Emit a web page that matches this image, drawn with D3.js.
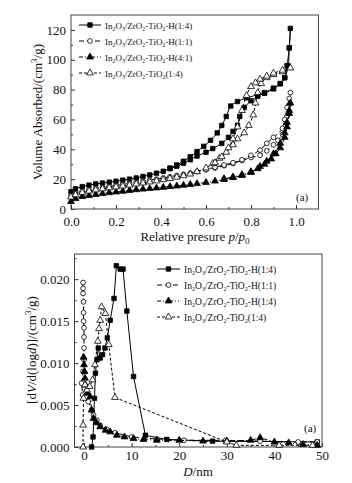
<!DOCTYPE html>
<html>
<head>
<meta charset="utf-8">
<script src="https://cdn.jsdelivr.net/npm/d3@7"></script>
<style>
  body { margin: 0; background: #fff; }
  svg text { font-family: "Liberation Serif", "Times New Roman", serif; }
</style>
</head>
<body>
<svg id="chart" width="352" height="483"></svg>
<script>
// ---- top panel: N2 isotherms (adsorption then desorption) ----
var p14 = [0,0.02,0.05,0.08,0.11,0.14,0.17,0.2,0.23,0.26,0.29,0.32,0.35,0.38,0.41,0.44,0.47,0.5,0.53,0.56,0.6,0.63,0.67,0.7,0.72,0.74,0.75,0.77,0.8,0.83,0.86,0.9,0.93,0.95,0.96,0.97,0.975,
           0.97,0.965,0.95,0.93,0.9,0.86,0.83,0.78,0.74,0.71,0.69,0.67,0.65,0.62,0.59,0.56,0.53,0.5,0.47,0.44];
var v14 = [11.6,13.5,15,16,16.8,17.4,18,18.6,19.3,20,20.8,21.8,22.8,24,25.3,27,28.7,30.6,33,35.5,38,40.5,44,48,52,56,62,68,72.5,75.5,77.5,80.5,84,88,96,108,121,
           108,96,88,84,81,78,76.5,74.5,72,69,62,56,51,46,42,38.5,35,32,29.5,27.5];
var p11 = [0,0.02,0.05,0.08,0.11,0.14,0.17,0.2,0.23,0.26,0.29,0.32,0.35,0.38,0.41,0.44,0.47,0.5,0.53,0.56,0.6,0.64,0.68,0.72,0.76,0.8,0.84,0.87,0.9,0.92,0.94,0.95,0.96,0.97,0.975,
           0.97,0.96,0.95,0.94,0.9,0.87,0.84,0.8,0.76,0.72,0.68,0.64,0.6];
var v11 = [9,10.5,12,13,13.8,14.5,15.2,15.8,16.5,17.2,17.9,18.6,19.3,20,20.8,21.6,22.4,23.2,24,25,26.3,27.5,29,30.5,32.5,34.5,36,39,43,46,50,55,62,70,78,
           74,68,60,54,48,44,39.5,36,33,31,29.5,28,26.5];
var p41 = [0,0.02,0.05,0.08,0.11,0.14,0.17,0.2,0.23,0.26,0.29,0.32,0.35,0.38,0.41,0.44,0.47,0.5,0.53,0.56,0.6,0.64,0.68,0.72,0.76,0.8,0.83,0.86,0.89,0.91,0.93,0.95,0.96,0.97,0.975,
           0.97,0.96,0.95,0.93,0.9,0.87,0.84,0.8,0.76,0.72,0.68];
var v41 = [5,7,8.3,9,9.7,10.3,10.9,11.4,11.9,12.4,12.9,13.3,13.7,14.1,14.5,15,15.4,15.9,16.4,17,17.8,18.7,19.8,21,22.5,24.5,27,30,33.5,37,41,48,55,64,71,
           66,58,51,44,37,32,28.5,25,23,21.5,20.3];
var pTi = [0,0.02,0.05,0.08,0.11,0.14,0.17,0.2,0.23,0.26,0.29,0.32,0.35,0.38,0.41,0.44,0.47,0.5,0.53,0.56,0.6,0.63,0.66,0.69,0.72,0.74,0.77,0.79,0.81,0.82,0.83,0.845,0.87,0.9,0.94,0.975,
           0.94,0.9,0.87,0.84,0.82,0.8,0.78,0.76,0.74,0.72,0.7,0.67,0.64];
var vTi = [8,9.5,11,12,12.8,13.5,14.2,14.8,15.4,16,16.7,17.4,18.1,18.8,19.6,20.4,21.3,22.3,23.4,25,27.5,30.5,34,38,43,47,51,56,63,71,78,84,88,90,92,94.5,
           93,91,89,87,84.5,82,76,66,55,47,41,35,31];

// ---- bottom panel: pore size distribution ----
var d14 = [1.6,1.9,2.2,2.4,2.7,3.0,3.4,3.9,4.4,4.9,5.5,6.3,6.8,7.6,8.2,9.0,10.4,12.9,17.4,27,49];
var dv14 = [0,0.0012,0.0058,0.0088,0.0104,0.0118,0.0106,0.011,0.0118,0.013,0.0151,0.0177,0.0216,0.0212,0.0212,0.0162,0.0084,0.0014,0.0009,0.0007,0.0006];
var d11 = [-0.2,-0.2,-0.2,-0.1,-0.1,-0.1,0,0,0,0,-0.2,-0.5,-0.3,0.9,1.6,2.0,2.7,3.4,4.8,6.5,10,15.3,21,29.8,37,45,49];
var dv11 = [0.0196,0.0189,0.0183,0.0173,0.016,0.015,0.0142,0.0131,0.0118,0.0104,0.009,0.0076,0.0062,0.0054,0.0044,0.0038,0.0032,0.0026,0.0021,0.0017,0.0012,0.00095,0.0008,0.0008,0.0007,0.0006,0.0006];
var d41 = [-0.1,0,0.1,0.2,0.3,0.7,1.3,1.6,2.0,2.6,3.4,4.5,5.5,6.9,8.5,10.4,12.5,15.3,20,25,30,35,37,40,43,46,49];
var dv41 = [0.0107,0.0098,0.009,0.0082,0.0074,0.0064,0.006,0.0044,0.0034,0.0029,0.0024,0.002,0.0018,0.0014,0.0012,0.001,0.0009,0.0008,0.0008,0.0007,0.0007,0.0008,0.0011,0.0006,0.0005,0.0003,0.0002];
var dTi = [-0.2,-0.2,-0.1,0.2,0.6,1.2,1.8,2.3,2.9,3.15,3.4,3.7,4.5,5.2,6.5,30,32,41,48];
var dvTi = [0,0.0026,0.0058,0.0074,0.0068,0.0072,0.008,0.0098,0.0126,0.0141,0.0151,0.0167,0.0159,0.0122,0.0059,0.0006,0.0002,0.0002,0.0002];

var topNames = ["H(1:4)", "H(1:1)", "H(4:1)", "(1:4)"];
var botNames = ["H(1:4)", "H(1:1)", "H(1:4)", "(1:4)"];
var topTicksX = [0, 0.2, 0.4, 0.6, 0.8, 1.0];
var topTicksY = [0, 20, 40, 60, 80, 100, 120];
var botTicksX = [0, 10, 20, 30, 40, 50];
var botTicksY = [0, 0.005, 0.010, 0.015, 0.020];

var FONT = "Liberation Serif";
var styles = [
    {sym: d3.symbolSquare, size: 20, fill: "#000", dash: null},
    {sym: d3.symbolCircle, size: 18, fill: "#fff", dash: "5,3"},
    {sym: d3.symbolTriangle, size: 20, fill: "#000", dash: "4,2,1,2,1,2"},
    {sym: d3.symbolTriangle, size: 20, fill: "#fff", dash: "3,2"}
];

var svg = d3.select("#chart");

function zip(a, b) { return a.map(function(d, i) { return [d, b[i]]; }); }

function panel(cfg) {
    var x = d3.scaleLinear().domain(cfg.xd).range(cfg.xr);
    var y = d3.scaleLinear().domain(cfg.yd).range(cfg.yr);
    var g = svg.append("g");

    // axes, ticks pointing inside
    var ax = d3.axisBottom(x).tickValues(cfg.tx).tickSize(-4).tickPadding(cfg.padx).tickFormat(cfg.fx);
    var ay = d3.axisLeft(y).tickValues(cfg.ty).tickSize(-4).tickPadding(5).tickFormat(cfg.fy);
    g.append("g").attr("transform", "translate(0," + cfg.yr[0] + ")").call(ax);
    g.append("g").attr("transform", "translate(" + cfg.xr[0] + ",0)").call(ay);
    // minor ticks
    g.append("g").attr("transform", "translate(0," + cfg.yr[0] + ")")
        .call(d3.axisBottom(x).tickValues(cfg.mx).tickSize(-2).tickFormat(""));
    g.append("g").attr("transform", "translate(" + cfg.xr[0] + ",0)")
        .call(d3.axisLeft(y).tickValues(cfg.my).tickSize(-2).tickFormat(""));
    g.selectAll(".domain").remove();
    g.selectAll(".tick line").attr("stroke", "#333");
    g.selectAll(".tick text").attr("font-size", 13).attr("fill", "#111")
        .attr("font-family", FONT);

    g.append("rect").attr("x", cfg.xr[0]).attr("y", cfg.yr[1])
        .attr("width", cfg.xr[1] - cfg.xr[0]).attr("height", cfg.yr[0] - cfg.yr[1])
        .attr("fill", "none").attr("stroke", "#444").attr("stroke-width", 1);

    var line = d3.line().x(d => x(d[0])).y(d => y(d[1])).curve(cfg.curve);
    cfg.series.forEach(function(s, i) {
        var st = styles[i];
        var pts = zip(s[0], s[1]);
        g.append("path").attr("d", line(pts)).attr("fill", "none")
            .attr("stroke", "#000").attr("stroke-width", 1)
            .attr("stroke-dasharray", st.dash);
        g.selectAll(null).data(pts).enter().append("path")
            .attr("d", d3.symbol().type(st.sym).size(st.size))
            .attr("transform", d => "translate(" + x(d[0]) + "," + y(d[1]) + ")")
            .attr("fill", st.fill).attr("stroke", "#000").attr("stroke-width", 0.8);
    });

    // legend
    cfg.names.forEach(function(n, i) {
        var st = styles[i];
        var ly = cfg.leg.y + i * cfg.leg.dy;
        g.append("line").attr("x1", cfg.leg.x1).attr("x2", cfg.leg.x2)
            .attr("y1", ly).attr("y2", ly).attr("stroke", "#000")
            .attr("stroke-dasharray", st.dash);
        g.append("path").attr("d", d3.symbol().type(st.sym).size(st.size)())
            .attr("transform", "translate(" + ((cfg.leg.x1 + cfg.leg.x2) / 2) + "," + ly + ")")
            .attr("fill", st.fill).attr("stroke", "#000").attr("stroke-width", 0.8);
        var t = g.append("text").attr("x", cfg.leg.x2 + 4).attr("y", ly + 3.5)
            .attr("font-family", FONT).attr("font-size", cfg.leg.fs).attr("fill", "#111");
        var parts = [["In", 0], ["2", 1], ["O", 0], ["3", 1], ["/ZrO", 0], ["2", 1], ["-TiO", 0], ["2", 1]];
        parts.push([i == 3 ? n : "-" + n, 0]);
        var shifted = false;
        parts.forEach(function(pp) {
            var dy = null;
            if (pp[1] && !shifted) { dy = 2.5; shifted = true; }
            else if (!pp[1] && shifted) { dy = -2.5; shifted = false; }
            t.append("tspan").text(pp[0])
                .attr("font-size", pp[1] ? cfg.leg.fs * 0.65 : cfg.leg.fs)
                .attr("dy", dy);
        });
    });

    g.append("text").attr("x", cfg.a[0]).attr("y", cfg.a[1])
        .attr("font-family", FONT).attr("font-size", 11).attr("fill", "#111").text("(a)");
    return {x: x, y: y, g: g};
}

// top
var pt = panel({
    xd: [0, 1.1], xr: [71, 318.5], yd: [0, 130], yr: [209, 15],
    tx: topTicksX, ty: topTicksY, fx: d3.format(".1f"), fy: d3.format("d"), padx: 8,
    mx: [0.1, 0.3, 0.5, 0.7, 0.9], my: [10, 30, 50, 70, 90, 110],
    curve: d3.curveCatmullRom.alpha(0.5),
    series: [[p14, v14], [p11, v11], [p41, v41], [pTi, vTi]],
    names: topNames, leg: {x1: 79, x2: 101, y: 25, dy: 16, fs: 9},
    a: [296, 201]
});

// bottom
var pb = panel({
    xd: [-2, 50], xr: [74.5, 322], yd: [0, 0.023], yr: [447, 254],
    tx: botTicksX, ty: botTicksY, fx: d3.format("d"), fy: d3.format(".3f"), padx: 4,
    mx: [5, 15, 25, 35, 45], my: [0.0025, 0.0075, 0.0125, 0.0175, 0.0225],
    curve: d3.curveLinear,
    series: [[d14, dv14], [d11, dv11], [d41, dv41], [dTi, dvTi]],
    names: botNames, leg: {x1: 157, x2: 180, y: 269, dy: 16, fs: 9.5},
    a: [304, 432]
});

// axis titles
function title(x, y, rot) {
    var tr = "translate(" + x + "," + y + ")" + (rot ? " rotate(-90)" : "");
    return svg.append("text").attr("transform", tr).attr("text-anchor", "middle")
        .attr("font-family", FONT).attr("font-size", 13).attr("fill", "#111");
}
var xt1 = title(195, 241, false);
xt1.append("tspan").text("Relative presure ");
xt1.append("tspan").text("p").attr("font-style", "italic");
xt1.append("tspan").text("/");
xt1.append("tspan").text("p").attr("font-style", "italic");
xt1.append("tspan").text("0").attr("font-size", 9).attr("dy", 3);

var yt1 = title(42, 112, true);
yt1.append("tspan").text("Volume Absorbed/(cm");
yt1.append("tspan").text("3").attr("font-size", 9).attr("dy", -5);
yt1.append("tspan").text("/g)").attr("dy", 5);

var xt2 = title(198, 476, false);
xt2.append("tspan").text("D").attr("font-style", "italic");
xt2.append("tspan").text("/nm");

var yt2 = title(36, 350, true);
yt2.append("tspan").text("[d");
yt2.append("tspan").text("V").attr("font-style", "italic");
yt2.append("tspan").text("/d(log");
yt2.append("tspan").text("d").attr("font-style", "italic");
yt2.append("tspan").text(")]/(cm");
yt2.append("tspan").text("3").attr("font-size", 9).attr("dy", -5);
yt2.append("tspan").text("/g)").attr("dy", 5);
</script>
</body>
</html>
